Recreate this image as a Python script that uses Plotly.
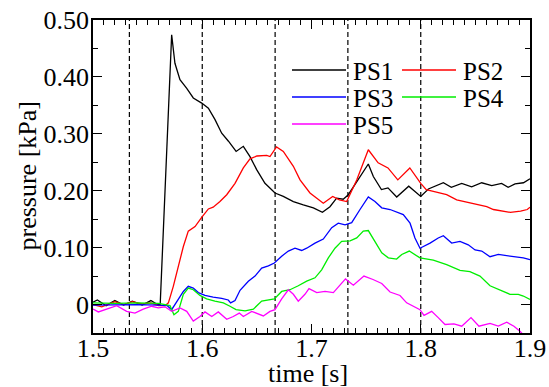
import plotly.graph_objects as go

# ---------------- data ----------------
t_ps1 = [1.500, 1.504, 1.512, 1.520, 1.528, 1.536, 1.545, 1.553, 1.559, 1.5615,
         1.572, 1.575, 1.5796, 1.5858, 1.5918, 1.5995, 1.6056, 1.6117, 1.6178, 1.624,
         1.631, 1.6376, 1.6437, 1.6498, 1.6574, 1.6666, 1.6742, 1.6834, 1.6925, 1.7017,
         1.710, 1.7169, 1.723, 1.729, 1.7337, 1.7428, 1.752, 1.7566, 1.764, 1.770,
         1.778, 1.789, 1.795, 1.800, 1.807, 1.8207, 1.828, 1.8375, 1.8466, 1.8558,
         1.865, 1.874, 1.880, 1.8863, 1.894, 1.900]
p_ps1 = [0.004, 0.008, -0.002, 0.007, -0.001, 0.006, -0.001, 0.007, 0.000, 0.000,
         0.474, 0.424, 0.395, 0.380, 0.363, 0.354, 0.345, 0.325, 0.301, 0.287,
         0.269, 0.278, 0.260, 0.237, 0.213, 0.196, 0.190, 0.181, 0.175, 0.170,
         0.162, 0.172, 0.187, 0.185, 0.193, 0.219, 0.247, 0.225, 0.202, 0.205,
         0.189, 0.208, 0.199, 0.190, 0.203, 0.214, 0.206, 0.213, 0.207, 0.214,
         0.209, 0.213, 0.206, 0.212, 0.214, 0.221]

t_ps2 = [1.500, 1.508, 1.520, 1.528, 1.536, 1.545, 1.553, 1.560, 1.566, 1.569,
         1.5735, 1.578, 1.5827, 1.5872, 1.5934, 1.5995, 1.6056, 1.610, 1.6162, 1.6224,
         1.630, 1.6376, 1.6437, 1.650, 1.659, 1.662, 1.668, 1.6742, 1.6834, 1.6895,
         1.6986, 1.7108, 1.7194, 1.7255, 1.7322, 1.7414, 1.752, 1.761, 1.770, 1.779,
         1.790, 1.800, 1.805, 1.8115, 1.8237, 1.8329, 1.842, 1.8512, 1.8604, 1.8665,
         1.874, 1.882, 1.8914, 1.8975, 1.900]
p_ps2 = [0.000, -0.004, 0.005, 0.000, 0.005, 0.001, 0.003, -0.002, -0.002, 0.003,
         0.032, 0.067, 0.102, 0.129, 0.137, 0.153, 0.168, 0.171, 0.181, 0.193,
         0.213, 0.240, 0.256, 0.261, 0.262, 0.260, 0.277, 0.269, 0.243, 0.219,
         0.196, 0.178, 0.190, 0.184, 0.181, 0.219, 0.272, 0.249, 0.240, 0.219,
         0.240, 0.213, 0.202, 0.199, 0.193, 0.184, 0.180, 0.175, 0.172, 0.167,
         0.165, 0.162, 0.164, 0.167, 0.171]

t_ps3 = [1.500, 1.520, 1.540, 1.560, 1.568, 1.572, 1.578, 1.5827, 1.5872, 1.5918,
         1.5964, 1.6025, 1.610, 1.6178, 1.6238, 1.626, 1.630, 1.6346, 1.6422, 1.6483,
         1.6544, 1.6605, 1.666, 1.6727, 1.6788, 1.6849, 1.691, 1.6956, 1.7032, 1.7108,
         1.7185, 1.7245, 1.7307, 1.7368, 1.7444, 1.752, 1.7581, 1.7643, 1.7719, 1.7795,
         1.784, 1.7902, 1.7947, 1.7993, 1.8085, 1.816, 1.8207, 1.8283, 1.8359, 1.8435,
         1.8497, 1.8558, 1.8634, 1.871, 1.8801, 1.8878, 1.8939, 1.900]
p_ps3 = [-0.001, 0.000, 0.000, -0.001, -0.002, -0.009, 0.009, 0.023, 0.032, 0.029,
         0.021, 0.016, 0.013, 0.011, 0.008, 0.003, 0.007, 0.025, 0.041, 0.050,
         0.064, 0.068, 0.073, 0.085, 0.094, 0.099, 0.095, 0.099, 0.108, 0.115,
         0.135, 0.143, 0.140, 0.144, 0.167, 0.189, 0.181, 0.170, 0.167, 0.161,
         0.158, 0.143, 0.117, 0.099, 0.108, 0.117, 0.121, 0.108, 0.111, 0.105,
         0.096, 0.094, 0.084, 0.088, 0.086, 0.084, 0.082, 0.079]

t_ps4 = [1.500, 1.520, 1.540, 1.560, 1.5705, 1.5741, 1.5781, 1.5827, 1.5872, 1.5918,
         1.5979, 1.604, 1.6116, 1.6193, 1.6254, 1.6309, 1.6392, 1.6468, 1.6544, 1.659,
         1.666, 1.6727, 1.6803, 1.6879, 1.6956, 1.7032, 1.7093, 1.7154, 1.7215, 1.7276,
         1.7353, 1.7414, 1.7474, 1.752, 1.7581, 1.7643, 1.7703, 1.7779, 1.7826, 1.7895,
         1.7993, 1.8115, 1.8237, 1.8359, 1.845, 1.8542, 1.8634, 1.8725, 1.8817, 1.8893,
         1.8939, 1.900]
p_ps4 = [0.003, 0.002, 0.003, 0.002, -0.002, -0.018, -0.012, 0.018, 0.029, 0.026,
         0.016, 0.010, 0.006, 0.003, -0.003, -0.009, -0.011, -0.008, 0.006, 0.008,
         0.010, 0.023, 0.026, 0.033, 0.041, 0.047, 0.061, 0.082, 0.099, 0.111,
         0.112, 0.117, 0.129, 0.130, 0.111, 0.091, 0.082, 0.080, 0.088, 0.094,
         0.082, 0.078, 0.070, 0.060, 0.058, 0.050, 0.033, 0.026, 0.018, 0.018,
         0.015, 0.009]

t_ps5 = [1.500, 1.5049, 1.5125, 1.5217, 1.5308, 1.5384, 1.546, 1.5537, 1.5598, 1.5659,
         1.572, 1.5796, 1.5858, 1.5918, 1.5979, 1.6025, 1.6087, 1.6147, 1.6224, 1.6284,
         1.6339, 1.6376, 1.6453, 1.6559, 1.662, 1.6666, 1.6727, 1.6788, 1.6834, 1.6879,
         1.694, 1.6977, 1.7048, 1.7124, 1.720, 1.7261, 1.7311, 1.7383, 1.748, 1.7563,
         1.7643, 1.7719, 1.781, 1.7871, 1.7932, 1.7993, 1.803, 1.810, 1.816, 1.8222,
         1.8304, 1.8375, 1.846, 1.8533, 1.8634, 1.871, 1.8787, 1.8853, 1.8908, 1.8963,
         1.900]
p_ps5 = [-0.008, -0.013, -0.008, -0.002, -0.012, -0.015, -0.008, -0.003, -0.006, -0.004,
         -0.012, -0.006, -0.012, -0.029, -0.021, -0.013, -0.021, -0.013, -0.026, -0.021,
         -0.015, -0.021, -0.012, -0.020, -0.012, -0.009, 0.010, 0.026, 0.018, 0.006,
         0.018, 0.028, 0.021, 0.023, 0.021, 0.035, 0.045, 0.034, 0.050, 0.044,
         0.037, 0.022, 0.016, 0.003, -0.003, -0.009, -0.019, -0.012, -0.023, -0.035,
         -0.034, -0.038, -0.023, -0.038, -0.033, -0.038, -0.031, -0.038, -0.047, -0.058,
         -0.065]

series_names = ["PS1", "PS2", "PS3", "PS4", "PS5"]
series_colors = ["#000000", "#ff0000", "#0000ff", "#00ee00", "#ff00ff"]
dashed_times = [1.5333, 1.6, 1.6667, 1.7333, 1.8]

x_tickvals = [1.5, 1.6, 1.7, 1.8, 1.9]
x_ticktext = ["1.5", "1.6", "1.7", "1.8", "1.9"]
y_tickvals = [0, 0.1, 0.2, 0.3, 0.4, 0.5]
y_ticktext = ["0", "0.10", "0.20", "0.30", "0.40", "0.50"]
x_title = "time [s]"
y_title = "pressure [kPa]"

# ---------------- figure ----------------
FONT = "Liberation Serif"
W, H = 549, 387
ML, MR, MT, MB = 93, 19, 20, 54
PW, PH = W - ML - MR, H - MT - MB


def px_x(v):
    return (v - ML) / PW


def px_y(v):
    return 1 - (v - MT) / PH


fig = go.Figure()

data = [(t_ps1, p_ps1), (t_ps2, p_ps2), (t_ps3, p_ps3), (t_ps4, p_ps4), (t_ps5, p_ps5)]
for (t, p), name, col in zip(data, series_names, series_colors):
    fig.add_trace(go.Scatter(x=t, y=p, mode="lines", name=name,
                             line=dict(color=col, width=1.3), showlegend=False))

for xt in dashed_times:
    fig.add_shape(type="line", x0=xt, x1=xt, y0=0, y1=1, xref="x", yref="paper",
                  line=dict(color="black", width=1.2, dash="5px,3px"), layer="below")

# legend drawn as a 2-column block (PS1 PS2 / PS3 PS4 / PS5), positions in pixels
legend_cols = [0, 1, 0, 1, 0]
legend_rows = [0, 0, 1, 1, 2]
col_line_x = [292, 402]
line_len = 54
row_y = [70, 97, 124]

for name, col, c, r in zip(series_names, series_colors, legend_cols, legend_rows):
    x0 = col_line_x[c]
    fig.add_shape(type="line", xref="paper", yref="paper",
                  x0=px_x(x0), x1=px_x(x0 + line_len), y0=px_y(row_y[r]), y1=px_y(row_y[r]),
                  line=dict(color=col, width=1.3))
    fig.add_annotation(xref="paper", yref="paper", x=px_x(x0 + line_len + 5), y=px_y(row_y[r] + 1),
                       text=name, showarrow=False, xanchor="left", yanchor="middle",
                       font=dict(family=FONT, size=25, color="black"))

# axis titles
fig.add_annotation(xref="paper", yref="paper", x=px_x(308), y=px_y(373), text=x_title,
                   showarrow=False, xanchor="center", yanchor="middle",
                   font=dict(family=FONT, size=26, color="black"))
fig.add_annotation(xref="paper", yref="paper", x=px_x(27), y=0.5, text=y_title,
                   showarrow=False, xanchor="center", yanchor="middle", textangle=-90,
                   font=dict(family=FONT, size=26, color="black"))

axis_common = dict(showline=True, linecolor="black", linewidth=1.5, mirror="ticks",
                   ticks="inside", ticklen=9, tickwidth=1.3, tickcolor="black",
                   showgrid=False, zeroline=False, automargin=False,
                   tickfont=dict(family=FONT, size=26, color="black"))

fig.update_xaxes(range=[1.5, 1.9], tickmode="array", tickvals=x_tickvals,
                 ticktext=x_ticktext, ticklabelstandoff=-9,
                 minor=dict(dtick=0.01, tick0=1.5, ticks="inside", ticklen=5, tickcolor="black",
                            tickwidth=1.2, showgrid=False),
                 **axis_common)
fig.update_yaxes(range=[-0.05, 0.5], tickmode="array", tickvals=y_tickvals,
                 ticktext=y_ticktext, ticklabelstandoff=-3,
                 minor=dict(dtick=0.05, tick0=0, ticks="inside", ticklen=5, tickcolor="black",
                            tickwidth=1.2, showgrid=False),
                 **axis_common)

fig.update_layout(
    width=W, height=H,
    margin=dict(l=ML, r=MR, t=MT, b=MB, autoexpand=False),
    paper_bgcolor="white", plot_bgcolor="white",
    showlegend=False,
)

fig.write_html("out.html", config={"displayModeBar": False},
               post_script="document.body.style.margin='0';document.body.style.overflow='hidden';")
